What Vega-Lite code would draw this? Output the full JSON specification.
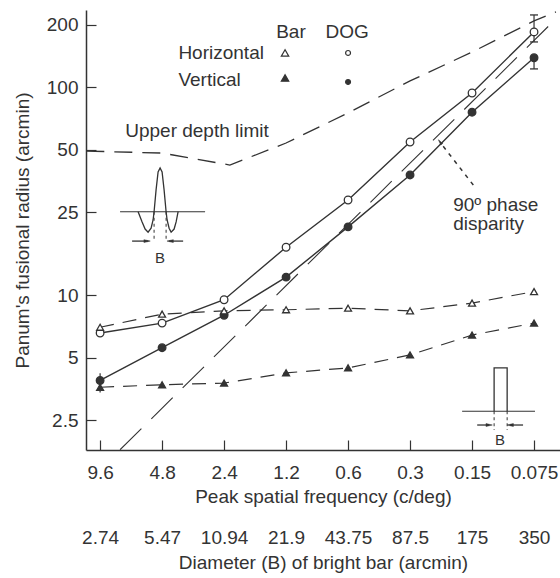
{
  "$schema": "https://vega.github.io/schema/vega-lite/v6.json",
  "width": 474,
  "height": 440,
  "autosize": {"type": "none"},
  "padding": {"left": 86, "top": 10, "right": 0, "bottom": 128},
  "background": "white",
  "config": {
    "view": {"stroke": null},
    "axis": {"grid": false, "domainColor": "#333", "domainWidth": 1.5, "tickColor": "#333", "tickWidth": 1.2, "labelColor": "#333", "titleColor": "#333", "labelFont": "Liberation Sans", "titleFont": "Liberation Sans", "labelFontSize": 19, "titleFontSize": 19, "titleFontWeight": "normal", "labelFlush": false, "labelOverlap": false},
    "text": {"font": "Liberation Sans", "fontSize": 19, "fill": "#333"}
  },
  "datasets": {
    "main": [
      {"f": 9.6, "r": 6.57, "stim": "DOG", "ori": "Horizontal"},
      {"f": 4.8, "r": 7.33, "stim": "DOG", "ori": "Horizontal"},
      {"f": 2.4, "r": 9.5, "stim": "DOG", "ori": "Horizontal"},
      {"f": 1.2, "r": 17.0, "stim": "DOG", "ori": "Horizontal"},
      {"f": 0.6, "r": 28.7, "stim": "DOG", "ori": "Horizontal"},
      {"f": 0.3, "r": 54.6, "stim": "DOG", "ori": "Horizontal"},
      {"f": 0.15, "r": 94, "stim": "DOG", "ori": "Horizontal"},
      {"f": 0.075, "r": 185, "stim": "DOG", "ori": "Horizontal"},
      {"f": 9.6, "r": 3.88, "stim": "DOG", "ori": "Vertical"},
      {"f": 4.8, "r": 5.58, "stim": "DOG", "ori": "Vertical"},
      {"f": 2.4, "r": 8.0, "stim": "DOG", "ori": "Vertical"},
      {"f": 1.2, "r": 12.2, "stim": "DOG", "ori": "Vertical"},
      {"f": 0.6, "r": 21.3, "stim": "DOG", "ori": "Vertical"},
      {"f": 0.3, "r": 37.9, "stim": "DOG", "ori": "Vertical"},
      {"f": 0.15, "r": 76, "stim": "DOG", "ori": "Vertical"},
      {"f": 0.075, "r": 139, "stim": "DOG", "ori": "Vertical"},
      {"f": 9.6, "r": 7.0, "stim": "Bar", "ori": "Horizontal"},
      {"f": 4.8, "r": 8.1, "stim": "Bar", "ori": "Horizontal"},
      {"f": 2.4, "r": 8.4, "stim": "Bar", "ori": "Horizontal"},
      {"f": 1.2, "r": 8.5, "stim": "Bar", "ori": "Horizontal"},
      {"f": 0.6, "r": 8.65, "stim": "Bar", "ori": "Horizontal"},
      {"f": 0.3, "r": 8.4, "stim": "Bar", "ori": "Horizontal"},
      {"f": 0.15, "r": 9.15, "stim": "Bar", "ori": "Horizontal"},
      {"f": 0.075, "r": 10.4, "stim": "Bar", "ori": "Horizontal"},
      {"f": 9.6, "r": 3.6, "stim": "Bar", "ori": "Vertical"},
      {"f": 4.8, "r": 3.7, "stim": "Bar", "ori": "Vertical"},
      {"f": 2.4, "r": 3.77, "stim": "Bar", "ori": "Vertical"},
      {"f": 1.2, "r": 4.22, "stim": "Bar", "ori": "Vertical"},
      {"f": 0.6, "r": 4.46, "stim": "Bar", "ori": "Vertical"},
      {"f": 0.3, "r": 5.15, "stim": "Bar", "ori": "Vertical"},
      {"f": 0.15, "r": 6.42, "stim": "Bar", "ori": "Vertical"},
      {"f": 0.075, "r": 7.33, "stim": "Bar", "ori": "Vertical"}
    ],
    "udl": [
      {"f": 11.2, "r": 49.4}, {"f": 4.8, "r": 48.3}, {"f": 2.25, "r": 42.3}, {"f": 1.2, "r": 54},
      {"f": 0.6, "r": 75.4}, {"f": 0.3, "r": 107.5}, {"f": 0.15, "r": 148}, {"f": 0.075, "r": 209}, {"f": 0.0587, "r": 231}
    ],
    "phase": [{"f": 7.68, "r": 1.8}, {"f": 0.6, "r": 21.9}, {"f": 0.0587, "r": 214}],
    "err": [
      {"f": 0.075, "r": 165.6, "r2": 223.4},
      {"f": 0.075, "r": 122.8, "r2": 139},
      {"f": 9.6, "r": 3.4, "r2": 4.2}
    ],
    "caps": [{"f": 0.075, "r": 223.4}, {"f": 0.075, "r": 165.6}, {"f": 0.075, "r": 122.8}],
    "legsym": [
      {"f": 1.214, "r": 146.6, "stim": "Bar", "ori": "Horizontal"},
      {"f": 1.214, "r": 111.1, "stim": "Bar", "ori": "Vertical"},
      {"f": 0.6, "r": 146.6, "stim": "DOG", "ori": "Horizontal"},
      {"f": 0.6, "r": 106.3, "stim": "DOG", "ori": "Vertical"}
    ],
    "ctext": [
      {"f": 1.136, "r": 185, "t": "Bar"},
      {"f": 0.6068, "r": 185, "t": "DOG"},
      {"f": 3.248, "r": 61.7, "t": "Upper depth limit"}
    ],
    "ltext": [
      {"f": 4.0, "r": 146.6, "t": "Horizontal"},
      {"f": 4.0, "r": 108.7, "t": "Vertical"},
      {"f": 0.1852, "r": 27.2, "t": "90º phase"},
      {"f": 0.1852, "r": 22.0, "t": "disparity"}
    ],
    "hrules": [
      {"f": 7.68, "f2": 2.968, "r": 25.2},
      {"f": 0.1676, "f2": 0.0742, "r": 2.758}
    ],
    "prof": [
      {"id": "dog", "i": 1, "f": 6.276, "r": 25.2},
      {"id": "dog", "i": 2, "f": 6.002, "r": 22.5},
      {"id": "dog", "i": 3, "f": 5.804, "r": 20.8},
      {"id": "dog", "i": 4, "f": 5.614, "r": 20.1},
      {"id": "dog", "i": 5, "f": 5.429, "r": 21.0},
      {"id": "dog", "i": 6, "f": 5.309, "r": 23.0},
      {"id": "dog", "i": 7, "f": 5.25, "r": 25.2},
      {"id": "dog", "i": 8, "f": 5.134, "r": 32.1},
      {"id": "dog", "i": 9, "f": 5.02, "r": 39.2},
      {"id": "dog", "i": 10, "f": 4.909, "r": 40.96},
      {"id": "dog", "i": 11, "f": 4.8, "r": 39.2},
      {"id": "dog", "i": 12, "f": 4.694, "r": 32.1},
      {"id": "dog", "i": 13, "f": 4.59, "r": 25.2},
      {"id": "dog", "i": 14, "f": 4.538, "r": 23.0},
      {"id": "dog", "i": 15, "f": 4.438, "r": 21.0},
      {"id": "dog", "i": 16, "f": 4.339, "r": 20.1},
      {"id": "dog", "i": 17, "f": 4.196, "r": 20.8},
      {"id": "dog", "i": 18, "f": 4.103, "r": 22.5},
      {"id": "dog", "i": 19, "f": 4.013, "r": 25.2},
      {"id": "bar", "i": 1, "f": 0.1172, "r": 2.758},
      {"id": "bar", "i": 2, "f": 0.1172, "r": 4.458},
      {"id": "bar", "i": 3, "f": 0.1013, "r": 4.458},
      {"id": "bar", "i": 4, "f": 0.1013, "r": 2.758}
    ],
    "vrules": [
      {"f": 5.25, "r": 25.2, "r2": 18.4},
      {"f": 4.59, "r": 25.2, "r2": 18.4},
      {"f": 0.1172, "r": 2.758, "r2": 2.24},
      {"f": 0.1013, "r": 2.758, "r2": 2.24}
    ],
    "shafts": [
      {"f": 6.713, "f2": 5.6, "r": 18.2},
      {"f": 3.794, "f2": 4.45, "r": 18.2},
      {"f": 0.1416, "f2": 0.1239, "r": 2.368},
      {"f": 0.0848, "f2": 0.0979, "r": 2.368}
    ],
    "heads": [
      {"f": 5.677, "r": 18.2, "a": 90, "s": 40},
      {"f": 4.387, "r": 18.2, "a": 270, "s": 40},
      {"f": 0.1239, "r": 2.368, "a": 90, "s": 40},
      {"f": 0.0979, "r": 2.368, "a": 270, "s": 40},
      {"f": 0.2144, "r": 54.6, "a": 323, "s": 30}
    ],
    "blab": [{"f": 4.909, "r": 15.1, "t": "B"}, {"f": 0.1096, "r": 2.006, "t": "B"}]
  },
  "encoding": {
    "x": {"field": "f", "type": "quantitative", "scale": {"type": "log", "domain": [0.0561, 11.24], "reverse": true, "nice": false, "zero": false}, "axis": null},
    "y": {"field": "r", "type": "quantitative", "scale": {"type": "log", "domain": [1.795, 236], "nice": false, "zero": false},
      "axis": {"values": [2.5, 5, 10, 25, 50, 100, 200], "format": "~g", "title": "Panum's fusional radius (arcmin)", "tickSize": -10, "labelPadding": 18, "titlePadding": 14}}
  },
  "layer": [
    {
      "data": {"name": "main"},
      "transform": [{"filter": "datum.stim == 'DOG'"}],
      "mark": {"type": "line", "stroke": "#333", "strokeWidth": 1.4},
      "encoding": {
        "x": {"field": "f", "type": "quantitative", "scale": {"type": "log", "domain": [0.0561, 11.24], "reverse": true, "nice": false, "zero": false},
          "axis": {"values": [9.6, 4.8, 2.4, 1.2, 0.6, 0.3, 0.15, 0.075], "format": "~g", "title": "Peak spatial frequency (c/deg)", "tickSize": -10, "labelPadding": 23, "titlePadding": 5}},
        "detail": {"field": "ori"}
      }
    },
    {
      "data": {"name": "main"},
      "transform": [{"filter": "datum.stim == 'Bar'"}],
      "mark": {"type": "line", "stroke": "#333", "strokeWidth": 1.2, "strokeDash": [14, 9]},
      "encoding": {
        "x": {"field": "f", "type": "quantitative", "scale": {"type": "log", "domain": [0.0561, 11.24], "reverse": true, "nice": false, "zero": false},
          "axis": {"orient": "bottom", "values": [9.6, 4.8, 2.4, 1.2, 0.6, 0.3, 0.15, 0.075], "format": "~g", "domain": false, "ticks": false, "offset": 70, "labelPadding": 8, "titlePadding": 6,
            "labelExpr": "datum.label == '9.6' ? '2.74' : datum.label == '4.8' ? '5.47' : datum.label == '2.4' ? '10.94' : datum.label == '1.2' ? '21.9' : datum.label == '0.6' ? '43.75' : datum.label == '0.3' ? '87.5' : datum.label == '0.15' ? '175' : '350'",
            "title": "Diameter (B) of bright bar (arcmin)"}},
        "detail": {"field": "ori"}
      }
    },
    {
      "data": {"name": "udl"},
      "mark": {"type": "line", "stroke": "#333", "strokeWidth": 1.3, "strokeDash": [18, 10], "clip": true},
      "encoding": {}
    },
    {
      "data": {"name": "phase"},
      "mark": {"type": "line", "stroke": "#333", "strokeWidth": 1.1, "strokeDash": [30, 14], "clip": true},
      "encoding": {}
    },
    {
      "data": {"name": "err"},
      "mark": {"type": "rule", "stroke": "#333", "strokeWidth": 1.2},
      "encoding": {"y2": {"field": "r2"}}
    },
    {
      "data": {"name": "caps"},
      "mark": {"type": "point", "shape": "stroke", "size": 64, "stroke": "#333", "strokeWidth": 1.3, "opacity": 1},
      "encoding": {}
    },
    {
      "data": {"name": "main"},
      "mark": {"type": "point", "stroke": "#333", "strokeWidth": 1.3, "opacity": 1, "filled": true},
      "encoding": {
        "shape": {"field": "stim", "type": "nominal", "scale": {"domain": ["Bar", "DOG"], "range": ["triangle-up", "circle"]}, "legend": null},
        "fill": {"field": "ori", "type": "nominal", "scale": {"domain": ["Horizontal", "Vertical"], "range": ["white", "#333"]}, "legend": null},
        "size": {"field": "stim", "type": "nominal", "scale": {"domain": ["Bar", "DOG"], "range": [48, 58]}, "legend": null}
      }
    },
    {
      "data": {"name": "legsym"},
      "mark": {"type": "point", "stroke": "#333", "strokeWidth": 1.2, "opacity": 1, "filled": true},
      "encoding": {
        "shape": {"field": "stim", "type": "nominal", "legend": null},
        "fill": {"field": "ori", "type": "nominal", "legend": null},
        "size": {"condition": {"test": "datum.stim == 'Bar'", "value": 55}, "value": 24}
      }
    },
    {
      "data": {"name": "ctext"},
      "mark": {"type": "text", "align": "center", "baseline": "middle"},
      "encoding": {"text": {"field": "t"}}
    },
    {
      "data": {"name": "ltext"},
      "mark": {"type": "text", "align": "left", "baseline": "middle"},
      "encoding": {"text": {"field": "t"}}
    },
    {
      "data": {"values": [{"f": 0.1479, "r": 33.9, "f2": 0.2097, "r2": 52.9}]},
      "mark": {"type": "rule", "stroke": "#333", "strokeWidth": 1.5, "strokeDash": [4, 5]},
      "encoding": {"x2": {"field": "f2"}, "y2": {"field": "r2"}}
    },
    {
      "data": {"name": "hrules"},
      "mark": {"type": "rule", "stroke": "#333", "strokeWidth": 1.2},
      "encoding": {"x2": {"field": "f2"}}
    },
    {
      "data": {"name": "prof"},
      "mark": {"type": "line", "stroke": "#333", "strokeWidth": 1.3},
      "encoding": {"detail": {"field": "id"}, "order": {"field": "i", "type": "quantitative"}}
    },
    {
      "data": {"name": "vrules"},
      "mark": {"type": "rule", "stroke": "#333", "strokeWidth": 1, "strokeDash": [3, 3]},
      "encoding": {"y2": {"field": "r2"}}
    },
    {
      "data": {"name": "shafts"},
      "mark": {"type": "rule", "stroke": "#333", "strokeWidth": 1.3},
      "encoding": {"x2": {"field": "f2"}}
    },
    {
      "data": {"name": "heads"},
      "mark": {"type": "point", "shape": "M0,-1L0.45,1L-0.45,1Z", "filled": true, "fill": "#333", "stroke": "#333", "strokeWidth": 0.5, "opacity": 1},
      "encoding": {"angle": {"field": "a", "type": "quantitative", "scale": null}, "size": {"field": "s", "type": "quantitative", "scale": null}}
    },
    {
      "data": {"name": "blab"},
      "mark": {"type": "text", "align": "center", "baseline": "middle", "fontSize": 15},
      "encoding": {"text": {"field": "t"}}
    }
  ],
  "resolve": {"axis": {"x": "independent"}}
}
